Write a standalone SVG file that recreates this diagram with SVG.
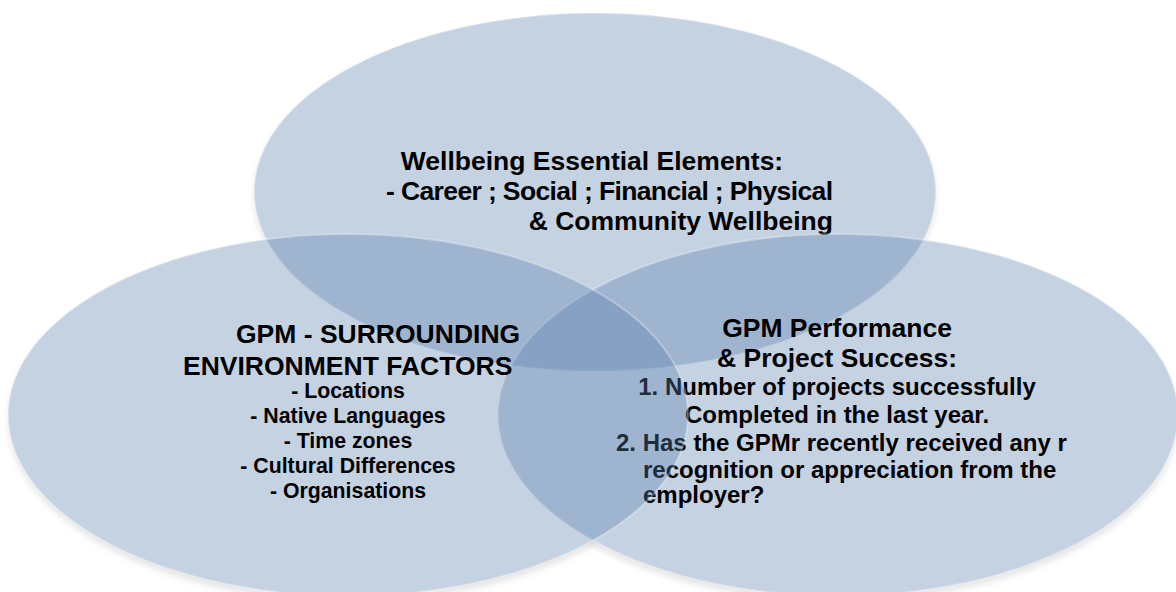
<svg xmlns="http://www.w3.org/2000/svg" width="1176" height="592" viewBox="0 0 1176 592">
  <style>
    .bubble { fill: #597eac; fill-opacity: 0.35; stroke: #ffffff; stroke-opacity: 0.3; stroke-width: 2; }
    .txt { font-family: "Liberation Sans", Arial, sans-serif; font-weight: bold; fill: #000000; }
    .title { font-size: 26.5px; }
    .item { font-size: 21.3px; }
    .point { font-size: 24px; }
  </style>
  <defs>
    <filter id="soft-shadow" x="-10%" y="-10%" width="120%" height="130%">
      <feGaussianBlur stdDeviation="3"/>
    </filter>
    <!-- keep the drop shadow outside the circles so the translucent fills stay clean -->
    <mask id="outside-bubbles" maskUnits="userSpaceOnUse" x="0" y="0" width="1176" height="592">
      <rect x="0" y="0" width="1176" height="592" fill="#ffffff"/>
      <ellipse cx="595" cy="192" rx="341" ry="179" fill="#000000"/>
      <ellipse cx="348" cy="415" rx="340" ry="181" fill="#000000"/>
      <ellipse cx="838" cy="415" rx="340" ry="181" fill="#000000"/>
    </mask>
  </defs>

  <rect x="0" y="0" width="1176" height="592" fill="#ffffff"/>

  <!-- drop shadows -->
  <g id="shadows" mask="url(#outside-bubbles)">
    <g filter="url(#soft-shadow)" fill="#000000" fill-opacity="0.1">
      <ellipse cx="595" cy="197" rx="341" ry="179"/>
      <ellipse cx="348" cy="420" rx="340" ry="181"/>
      <ellipse cx="838" cy="420" rx="340" ry="181"/>
    </g>
  </g>

  <!-- no connectors in this diagram -->
  <g id="connectors"/>

  <!-- top circle: wellbeing -->
  <g id="node-wellbeing">
    <ellipse class="bubble" cx="595" cy="192" rx="341" ry="179"/>
    <text class="txt title" x="592" y="170" text-anchor="middle">Wellbeing Essential Elements:</text>
    <text class="txt title" x="386" y="200" textLength="447" lengthAdjust="spacing">- Career ; Social ; Financial ; Physical</text>
    <text class="txt title" x="833" y="230" text-anchor="end">&amp; Community Wellbeing</text>
  </g>

  <!-- right circle: performance -->
  <g id="node-performance">
    <ellipse class="bubble" cx="838" cy="415" rx="340" ry="181"/>
    <text class="txt title" x="837" y="337" text-anchor="middle">GPM Performance</text>
    <text class="txt title" x="837" y="367" text-anchor="middle">&amp; Project Success:</text>
    <text class="txt point" x="837" y="395" text-anchor="middle">1. Number of projects successfully</text>
    <text class="txt point" x="837" y="423" text-anchor="middle">Completed in the last year.</text>
    <text class="txt point" x="616" y="451">2. Has the GPMr recently received any r</text>
    <text class="txt point" x="643" y="478">recognition or appreciation from the</text>
    <text class="txt point" x="643" y="503">employer?</text>
  </g>

  <!-- left circle: environment -->
  <g id="node-environment">
    <ellipse class="bubble" cx="348" cy="415" rx="340" ry="181"/>
    <text class="txt title" x="236" y="343">GPM - SURROUNDING</text>
    <text class="txt title" x="183" y="375">ENVIRONMENT FACTORS</text>
    <text class="txt item" x="348" y="398" text-anchor="middle">- Locations</text>
    <text class="txt item" x="348" y="423" text-anchor="middle">- Native Languages</text>
    <text class="txt item" x="348" y="448" text-anchor="middle">- Time zones</text>
    <text class="txt item" x="348" y="473" text-anchor="middle">- Cultural Differences</text>
    <text class="txt item" x="348" y="498" text-anchor="middle">- Organisations</text>
  </g>
</svg>
